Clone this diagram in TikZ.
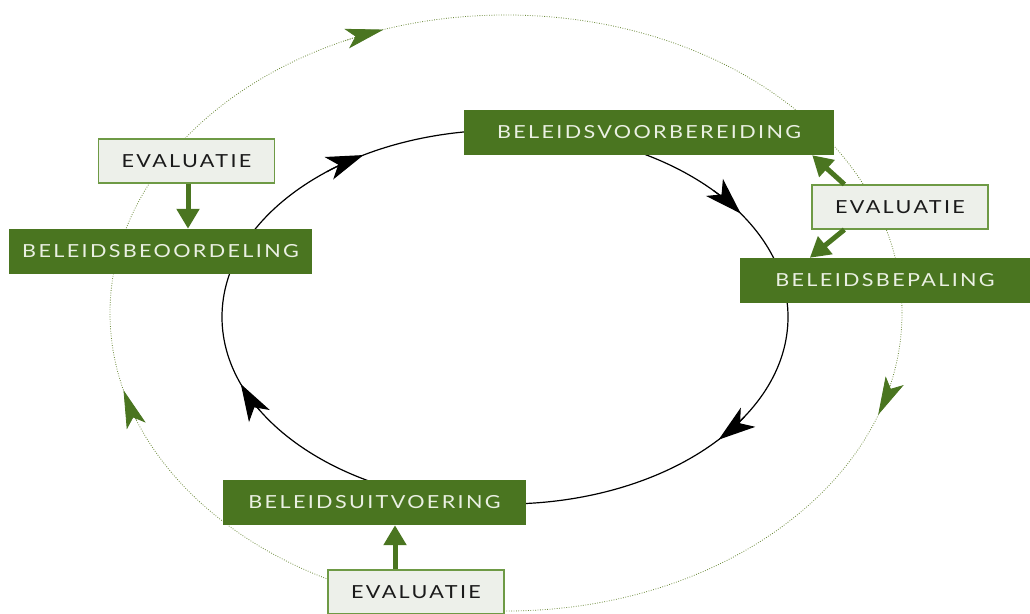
\documentclass[tikz,border=0pt]{standalone}
\usepackage{fontspec}
\setmainfont{Lato}
\newfontfamily\capsfont[LetterSpace=13,FakeStretch=1.2]{Lato}
\usetikzlibrary{arrows.meta,calc}

\definecolor{leaf}{HTML}{4A7520}
\definecolor{leaftext}{HTML}{EAF0E2}
\definecolor{pale}{HTML}{EDF0EA}
\definecolor{rim}{HTML}{6E9A45}
\definecolor{dots}{HTML}{6B8A3A}
\definecolor{ink}{HTML}{1A1A1A}

\tikzset{
  phase/.style={fill=leaf, text=leaftext, inner sep=0pt, minimum height=45pt,
    font=\capsfont\fontsize{18}{18}\selectfont},
  evalbox/.style={fill=pale, draw=rim, line width=1.3pt, text=ink, inner sep=0pt,
    minimum width=176pt, minimum height=44pt,
    font=\capsfont\fontsize{18}{18}\selectfont},
  innerring/.style={draw=black, line width=1.2pt},
  outerring/.style={draw=dots, line width=0.8pt, dash pattern=on 0.8pt off 1.6pt},
  cyclehead/.style={-{Stealth[length=37pt,width=24pt,inset=10pt]}},
  outerhead/.style={-{Stealth[length=38pt,width=20pt,inset=9pt,color=leaf,fill=leaf]}},
  feed/.style={draw=leaf, line width=5pt, -{Triangle[length=20pt,width=22pt]}},
}

\begin{document}
\begin{tikzpicture}[x=1pt,y=1pt]
\useasboundingbox (0,0) rectangle (1030,-613);

% the two cycles
\coordinate (inner) at (505,-317);
\coordinate (outer) at (506,-313);
\draw[outerring] (outer) ellipse [x radius=396, y radius=298];
\draw[innerring] (inner) ellipse [x radius=283, y radius=187];

% clockwise arrowheads on the inner cycle
\foreach \t [evaluate=\t as \s using \t+9] in {120,33.6,-41,201}
  \draw[innerring, cyclehead] ($(inner)+(\s:283 and 187)$)
    arc[start angle=\s, end angle=\t, x radius=283, y radius=187];

% clockwise arrowheads on the outer cycle
\foreach \t [evaluate=\t as \s using \t+6] in {108,-20,195}
  \draw[outerring, outerhead] ($(outer)+(\s:396 and 298)$)
    arc[start angle=\s, end angle=\t, x radius=396, y radius=298];

% policy phases
\node[phase, minimum width=370pt] (voorb)  at (649,-132.5)   {BELEIDSVOORBEREIDING};
\node[phase, minimum width=290pt] (bepal)  at (885,-280.5)   {BELEIDSBEPALING};
\node[phase, minimum width=303pt] (uitv)   at (374.5,-502.5) {BELEIDSUITVOERING};
\node[phase, minimum width=303pt] (beoord) at (160.5,-251.5) {BELEIDSBEOORDELING};

% evaluation moments
\node[evalbox] (evalA) at (186.5,-161) {EVALUATIE};
\node[evalbox] (evalB) at (900,-207)   {EVALUATIE};
\node[evalbox] (evalC) at (416,-592)   {EVALUATIE};

% evaluation feeding into the phases
\coordinate (fa) at ($(evalA.south)+(1.5,0)$);
\coordinate (fc) at ($(evalC.north)+(-21,0)$);
\draw[feed] (fa) -- (fa |- beoord.north);
\draw[feed] ($(evalB.north west)+(33,0)$) -- ($(voorb.south east)+(-22,0)$);
\draw[feed] ($(evalB.south west)+(33,0)$) -- ($(bepal.north west)+(70,0)$);
\draw[feed] (fc) -- (fc |- uitv.south);
\end{tikzpicture}
\end{document}
